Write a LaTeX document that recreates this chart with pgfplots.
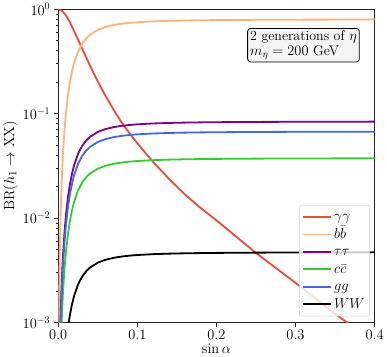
\documentclass[border=0pt]{standalone}
\usepackage{pgfplots}
\pgfplotsset{compat=1.18}
\definecolor{cgg}{RGB}{231,76,60}
\definecolor{cbb}{RGB}{255,178,122}
\definecolor{ctt}{RGB}{128,0,128}
\definecolor{ccc}{RGB}{50,205,50}
\definecolor{cgl}{RGB}{65,105,225}
\begin{document}
\begin{tikzpicture}
\begin{axis}[
    scale only axis,
    width=315pt, height=312pt,
    ymode=log,
    xmin=0, xmax=0.4, ymin=1e-3, ymax=1,
    xtick={0,0.1,0.2,0.3,0.4},
    xticklabel style={/pgf/number format/.cd,fixed,fixed zerofill,precision=1},
    scaled x ticks=false,
    xtick pos=left, ytick pos=left,
    tick align=outside,
    major tick length=4.5pt, minor tick length=2.5pt,
    axis line style={black!85, line width=0.8pt},
    tick style={black!85, line width=0.7pt},
    tick label style={font=\fontsize{13.9}{16}\selectfont},
    label style={font=\fontsize{15}{18}\selectfont},
    xlabel={$\sin\alpha$},
    ylabel={$\mathrm{BR}(h_1\to \mathrm{XX})$},
    xlabel style={yshift=3pt},
    ylabel style={yshift=-2pt},
    legend style={at={(0.985,0.02)}, anchor=south east, draw=black!20,
        fill=white, fill opacity=0.8, draw opacity=1, text opacity=1,
        rounded corners=2pt, font=\fontsize{13.9}{15}\selectfont,
        row sep=0pt, inner sep=3pt,
        nodes={inner sep=1.8pt, text height=10.8pt, text depth=3pt}},
    legend cell align=left,
    legend image code/.code={\draw[#1, line width=1.8pt] (0pt,0pt) -- (28pt,0pt);},
    clip=true,
]
% gamma gamma
\addplot[cgg, line width=1.8pt] table {
0      1.0
0.005  0.963
0.01   0.867
0.015  0.743
0.02   0.619
0.025  0.510
0.03   0.425
0.035  0.350
0.04   0.289
0.05   0.203
0.06   0.147
0.07   0.1091
0.08   0.0826
0.09   0.0651
0.10   0.0520
0.12   0.0344
0.14   0.0238
0.16   0.01687
0.18   0.01251
0.20   0.00953
0.25   0.00464
0.30   0.00240
0.35   0.00121
0.40   0.00065
};
\addlegendentry{$\gamma\gamma$}
% b bbar
\addplot[cbb, line width=1.8pt] table {
0.0008 0.000786
0.001  0.001227
0.002  0.004885
0.003  0.010909
0.004  0.019190
0.005  0.029584
0.006  0.041919
0.008  0.071605
0.010  0.106518
0.0125 0.154838
0.015  0.205470
0.0175 0.255930
0.02   0.304460
0.025  0.391837
0.03   0.464204
0.035  0.522377
0.04   0.568624
0.05   0.634710
0.06   0.677482
0.07   0.706173
0.08   0.726134
0.09   0.740483
0.10   0.751100
0.12   0.765396
0.14   0.774281
0.16   0.780160
0.18   0.784242
0.20   0.787188
0.25   0.791753
0.30   0.794254
0.35   0.795771
0.40   0.796758
};
\addlegendentry{$b\bar{b}$}
% tau tau
\addplot[ctt, line width=1.8pt] table {
0.002  0.000514
0.003  0.001148
0.004  0.002020
0.005  0.003114
0.006  0.004412
0.008  0.007536
0.010  0.011211
0.0125 0.016297
0.015  0.021626
0.0175 0.026937
0.02   0.032044
0.025  0.041241
0.03   0.048857
0.035  0.054980
0.04   0.059848
0.05   0.066803
0.06   0.071305
0.07   0.074325
0.08   0.076426
0.09   0.077936
0.10   0.079054
0.12   0.080558
0.14   0.081493
0.16   0.082112
0.18   0.082541
0.20   0.082852
0.25   0.083332
0.30   0.083595
0.35   0.083755
0.40   0.083859
};
\addlegendentry{$\tau\tau$}
% c cbar
\addplot[ccc, line width=1.8pt] table {
0.003  0.000511
0.004  0.000900
0.005  0.001387
0.006  0.001965
0.008  0.003356
0.010  0.004993
0.0125 0.007258
0.015  0.009631
0.0175 0.011997
0.02   0.014272
0.025  0.018367
0.03   0.021760
0.035  0.024486
0.04   0.026654
0.05   0.029752
0.06   0.031757
0.07   0.033102
0.08   0.034038
0.09   0.034710
0.10   0.035208
0.12   0.035878
0.14   0.036294
0.16   0.036570
0.18   0.036761
0.20   0.036899
0.25   0.037113
0.30   0.037231
0.35   0.037302
0.40   0.037348
};
\addlegendentry{$c\bar{c}$}
% g g
\addplot[cgl, line width=1.8pt] table {
0.002  0.000412
0.003  0.000920
0.004  0.001619
0.005  0.002496
0.006  0.003537
0.008  0.006042
0.010  0.008988
0.0125 0.013065
0.015  0.017336
0.0175 0.021594
0.02   0.025689
0.025  0.033061
0.03   0.039167
0.035  0.044076
0.04   0.047978
0.05   0.053554
0.06   0.057163
0.07   0.059583
0.08   0.061268
0.09   0.062478
0.10   0.063374
0.12   0.064580
0.14   0.065330
0.16   0.065826
0.18   0.066170
0.20   0.066419
0.25   0.066804
0.30   0.067015
0.35   0.067143
0.40   0.067226
};
\addlegendentry{$gg$}
% W W
\addplot[black, line width=1.8pt] table {
0.012  0.000855
0.0125 0.000914
0.0135 0.001032
0.015  0.001212
0.0175 0.001510
0.02   0.001796
0.025  0.002312
0.03   0.002739
0.035  0.003082
0.04   0.003355
0.05   0.003745
0.06   0.003997
0.07   0.004166
0.08   0.004284
0.09   0.004369
0.10   0.004431
0.12   0.004516
0.14   0.004568
0.16   0.004603
0.18   0.004627
0.20   0.004644
0.25   0.004671
0.30   0.004686
0.35   0.004695
0.40   0.004701
};
\addlegendentry{$WW$}
\node[anchor=north east, draw=black, fill=black!4, rounded corners=3pt,
      line width=0.8pt, align=left, inner sep=2.5pt,
      font=\fontsize{13.9}{14.5}\selectfont]
  at (rel axis cs:0.953,0.94)
  {2 generations of $\eta$\\ $m_\eta = 200$ GeV};
\end{axis}
\end{tikzpicture}
\end{document}
